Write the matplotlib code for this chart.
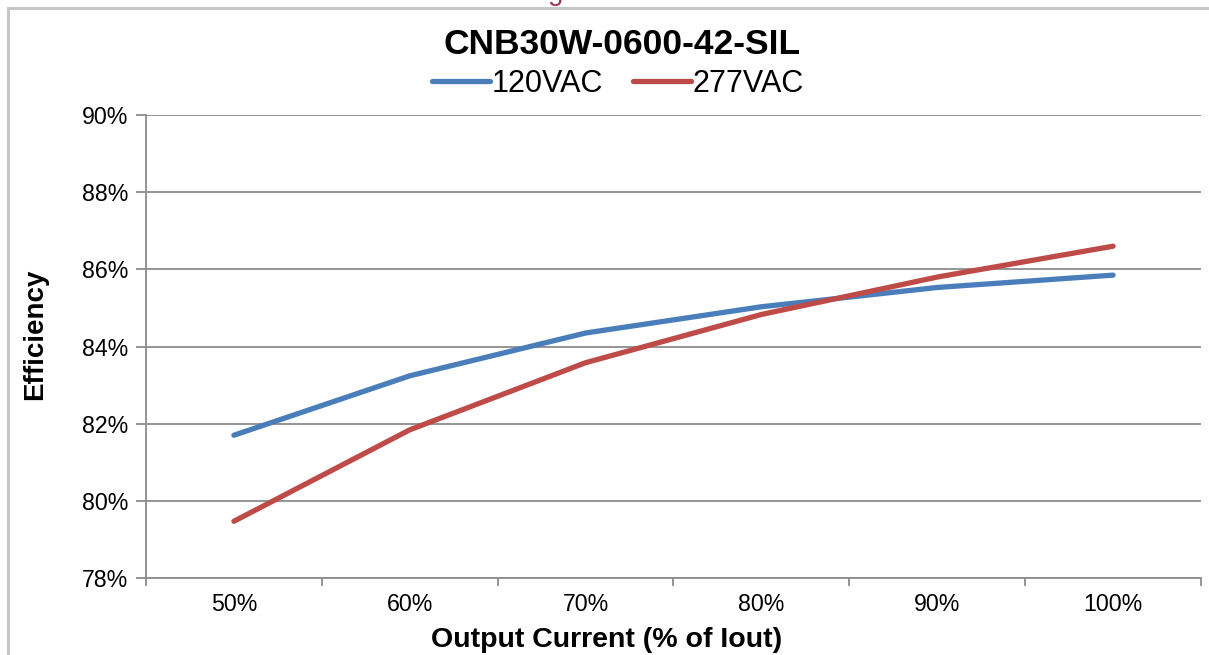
import matplotlib
matplotlib.use("Agg")
import matplotlib.pyplot as plt
from matplotlib.lines import Line2D
import numpy as np

# --- data ---
categories = ["50%", "60%", "70%", "80%", "90%", "100%"]
eff_120vac = [81.70, 83.24, 84.35, 85.03, 85.53, 85.85]
eff_277vac = [79.47, 81.84, 83.58, 84.83, 85.80, 86.60]
y_ticks = [78, 80, 82, 84, 86, 88, 90]

BLUE = "#4a7ebb"
RED = "#be4b48"
GRID = "#8c8c8c"

plt.rcParams["font.family"] = ["Liberation Sans", "DejaVu Sans"]

fig = plt.figure(figsize=(12.09, 6.55), dpi=100)
ax = fig.add_axes([146 / 1209, 1 - 578 / 655, (1201 - 146) / 1209, (578 - 115) / 655])

# outer chart border (partly outside the picture)
fig.add_artist(Line2D([8 / 1209, 8 / 1209], [-0.05, 1 - 8 / 655], transform=fig.transFigure,
                      color="#c6c6c6", lw=2.2))
fig.add_artist(Line2D([8 / 1209, 1.05], [1 - 8 / 655, 1 - 8 / 655], transform=fig.transFigure,
                      color="#c6c6c6", lw=2.2))
# cut-off heading above the chart (only a descender shows in the reference)
fig.text(556 / 1209, 1.0, "g", color="#a03550", fontsize=20, ha="center", va="baseline")

x = np.arange(len(categories))
ax.plot(x, eff_120vac, color=BLUE, lw=3.8, solid_capstyle="round", label="120VAC", zorder=3)
ax.plot(x, eff_277vac, color=RED, lw=3.8, solid_capstyle="round", label="277VAC", zorder=3)

ax.set_xlim(-0.5, len(categories) - 0.5)
ax.set_ylim(78, 90)
ax.set_yticks(y_ticks)
ax.set_yticklabels([f"{v}%" for v in y_ticks], fontsize=16.7)
ax.set_xticks(x)
ax.set_xticklabels(categories, fontsize=16.7)
ax.set_xticks(np.arange(len(categories) + 1) - 0.5, minor=True)
ax.tick_params(axis="x", which="major", length=0, pad=11)
ax.tick_params(axis="x", which="minor", length=6, width=1.3, color=GRID)
ax.tick_params(axis="y", length=7, width=1.3, color=GRID, pad=6)

ax.grid(axis="y", color=GRID, lw=1.3)
ax.set_axisbelow(True)
for s in ["top", "right"]:
    ax.spines[s].set_visible(False)
for s in ["left", "bottom"]:
    ax.spines[s].set_color(GRID)
    ax.spines[s].set_linewidth(1.3)

fig.text(607 / 1209, 1 - 640 / 655, "Output Current (% of Iout)", fontsize=20.5,
         fontweight="bold", ha="center", va="center")
fig.text(35 / 1209, 1 - 334 / 655, "Efficiency", fontsize=20, fontweight="bold",
         ha="center", va="center", rotation=90)

fig.text(622 / 1209, 1 - 45 / 655, "CNB30W-0600-42-SIL", fontsize=25.5, fontweight="bold",
         ha="center", va="center")
fig.legend(loc="center", bbox_to_anchor=(618 / 1209, 1 - 84 / 655), ncol=2, frameon=False,
           fontsize=22, handlelength=1.9, handletextpad=0.05, columnspacing=1.0,
           borderpad=0, borderaxespad=0)

fig.savefig("out.png", dpi=100)
